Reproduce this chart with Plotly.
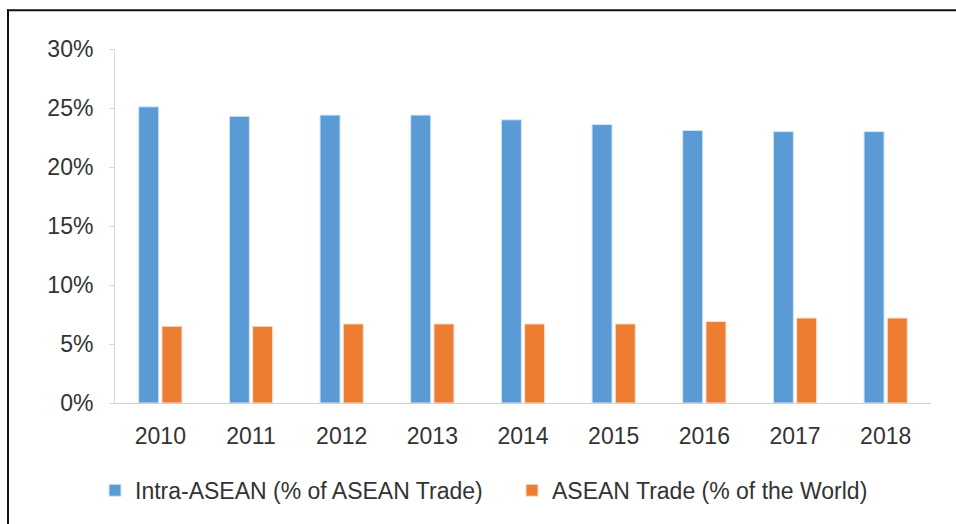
import plotly.graph_objects as go

years = ["2010", "2011", "2012", "2013", "2014", "2015", "2016", "2017", "2018"]
intra_asean = [25.1, 24.3, 24.4, 24.4, 24.0, 23.6, 23.1, 23.0, 23.0]
asean_world = [6.5, 6.5, 6.7, 6.7, 6.7, 6.7, 6.9, 7.2, 7.2]
y_ticks = [0, 5, 10, 15, 20, 25, 30]
y_tick_labels = ["0%", "5%", "10%", "15%", "20%", "25%", "30%"]

FONT = "Liberation Sans, Arial, sans-serif"
FS = 23

fig = go.Figure()
fig.add_trace(go.Bar(
    x=years, y=intra_asean, name="Intra-ASEAN (% of ASEAN Trade)",
    marker=dict(color="#5B9BD5", line=dict(color="#D6E6F5", width=1)),
))
fig.add_trace(go.Bar(
    x=years, y=asean_world, name="ASEAN Trade (% of the World)",
    marker=dict(color="#ED7D31", line=dict(color="#FBE0CC", width=1)),
))

W, H = 956, 524
L, R, T, B = 115, 25, 49, 118
pw = W - L - R
ph = H - T - B

def px_x(px):
    return (px - L) / pw

def px_y(py):
    return (H - B - py) / ph

fig.update_layout(
    width=W, height=H,
    margin=dict(l=L, r=R, t=T, b=B),
    paper_bgcolor="white", plot_bgcolor="white",
    barmode="group", bargap=0.487, bargroupgap=0.14,
    font=dict(family=FONT, size=FS, color="#333333"),
    showlegend=True,
    legend=dict(
        orientation="h", x=px_x(95), xanchor="left",
        y=px_y(494), yanchor="middle",
        font=dict(family=FONT, size=FS, color="#333333"),
        entrywidth=372, entrywidthmode="pixels",
        bgcolor="rgba(0,0,0,0)",
    ),
    xaxis=dict(
        showgrid=False, showline=True, linecolor="#D0D0D0", linewidth=1,
        ticks="", ticklabelstandoff=12,
        tickfont=dict(family=FONT, size=FS, color="#333333"),
        fixedrange=True,
    ),
    yaxis=dict(
        range=[0, 30], tickvals=y_ticks, ticktext=y_tick_labels,
        showgrid=False, showline=True, linecolor="#D9D9D9", linewidth=1,
        ticks="outside", ticklen=5, tickcolor="#D9D9D9",
        ticklabelstandoff=11,
        tickfont=dict(family=FONT, size=FS, color="#333333"),
        zeroline=False, fixedrange=True,
    ),
    shapes=[
        dict(type="line", xref="paper", yref="paper",
             x0=px_x(7), x1=px_x(960), y0=px_y(10), y1=px_y(10),
             line=dict(color="#111111", width=2)),
        dict(type="line", xref="paper", yref="paper",
             x0=px_x(8), x1=px_x(8), y0=px_y(9), y1=px_y(530),
             line=dict(color="#111111", width=2)),
    ],
)

fig.write_html(
    "out.html",
    config={"displayModeBar": False, "staticPlot": True},
    post_script="document.body.style.margin='0';"
                "document.documentElement.style.overflow='hidden';",
)
